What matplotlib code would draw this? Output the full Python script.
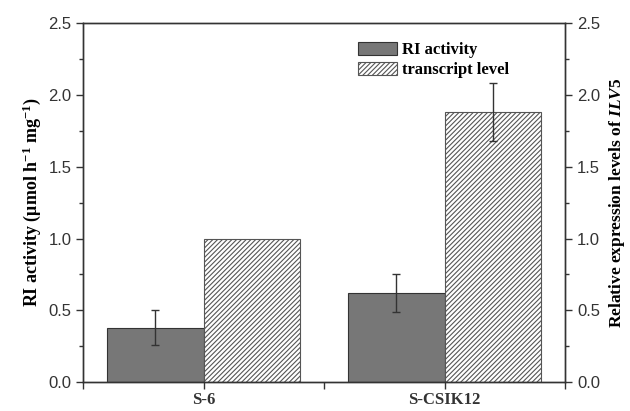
import matplotlib
matplotlib.use("Agg")
import matplotlib.pyplot as plt
from matplotlib.ticker import MultipleLocator, FixedLocator

strains = ["S-6", "S-CSIK12"]
ri_activity = [0.38, 0.62]
ri_err = [0.12, 0.13]
transcript = [1.0, 1.88]
transcript_err = [0.0, 0.20]

plt.rcParams['hatch.color'] = '#888888'
plt.rcParams['hatch.linewidth'] = 0.8
plt.rcParams['mathtext.fontset'] = 'custom'
plt.rcParams['mathtext.rm'] = 'Liberation Serif:bold'
plt.rcParams['mathtext.bf'] = 'Liberation Serif:bold'
plt.rcParams['mathtext.bfit'] = 'Liberation Serif:bold:italic'
plt.rcParams['mathtext.it'] = 'Liberation Serif:bold:italic'

fig = plt.figure(figsize=(6.3, 4.11), dpi=100)
ax = fig.add_axes([0.132, 0.07, 0.765, 0.874])
ax2 = ax.twinx()

pos = [1, 3]
w = 0.8
ax.bar([p - w / 2 for p in pos], ri_activity, w, color='#777777', edgecolor='#333333',
       linewidth=0.8, label='RI activity', zorder=2)
ax.errorbar([p - w / 2 for p in pos], ri_activity, yerr=ri_err, fmt='none',
            ecolor='#333333', elinewidth=1, capsize=3, capthick=1, zorder=3)
ax.bar([p + w / 2 for p in pos], transcript, w, color='white', edgecolor='#555555',
       hatch='///////', linewidth=0.8, label='transcript level', zorder=2)
ax.errorbar([pos[1] + w / 2], [transcript[1]], yerr=[transcript_err[1]], fmt='none',
            ecolor='#333333', elinewidth=1, capsize=3, capthick=1, zorder=3)

ax.set_xlim(0, 4)
ax.set_ylim(0, 2.5)
ax2.set_ylim(0, 2.5)
ax.set_xticks(pos)
ax.set_xticklabels(strains, fontfamily='Liberation Serif', fontweight='bold', fontsize=12.5)
ax.xaxis.set_minor_locator(FixedLocator([0, 2, 4]))
for a in (ax, ax2):
    a.yaxis.set_major_locator(MultipleLocator(0.5))
    a.yaxis.set_minor_locator(MultipleLocator(0.25))
    a.tick_params(which='both', direction='out', width=1, colors='#333333')
    a.tick_params(which='major', length=5, labelsize=12, labelcolor='#333333')
    a.tick_params(which='minor', length=3)
    for lab in a.get_yticklabels():
        lab.set_fontfamily('Liberation Sans')
    for s in a.spines.values():
        s.set_linewidth(1)
        s.set_color('#333333')
ax.tick_params(axis='x', which='both', length=5, pad=2)

ax.set_ylabel('RI activity (μmol h$^{-1}$ mg$^{-1}$)',
              fontfamily='Liberation Serif', fontweight='bold', fontsize=13, labelpad=4)
ax2.set_ylabel(r'Relative expression levels of $\mathit{ILV5}$',
               fontfamily='Liberation Serif', fontweight='bold', fontsize=12.5, labelpad=5)

leg = ax.legend(loc='upper left', bbox_to_anchor=(0.54, 0.99), frameon=False,
                prop={'family': 'Liberation Serif', 'weight': 'bold', 'size': 12},
                handlelength=2.3, handleheight=0.9, handletextpad=0.3, labelspacing=0.2)

fig.savefig('out.png', dpi=100)
